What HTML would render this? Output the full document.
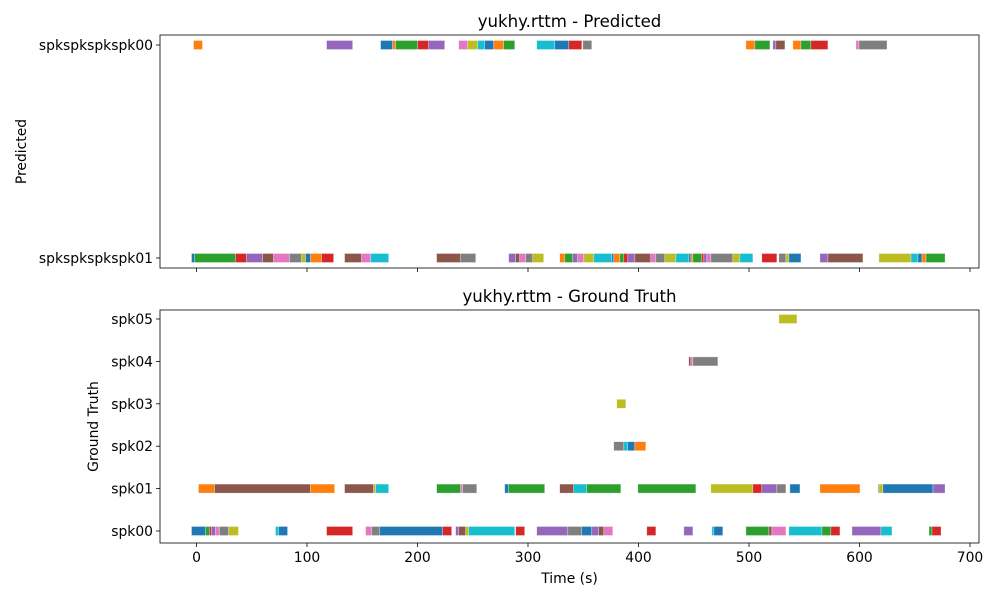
<!DOCTYPE html>
<html><head><meta charset="utf-8"><style>
body{margin:0;background:#fff;font-family:"DejaVu Sans",sans-serif}
svg text{font-family:"DejaVu Sans",sans-serif;fill:#000}
</style></head><body>
<svg id="c" width="1000" height="600" xmlns="http://www.w3.org/2000/svg"></svg>
<script>
const xTicks=[0,100,200,300,400,500,600,700];
const predLabels=["spkspkspkspk00","spkspkspkspk01"];
const gtLabels=["spk00","spk01","spk02","spk03","spk04","spk05"];
const palette=["#1f77b4","#ff7f0e","#2ca02c","#d62728","#9467bd","#8c564b","#e377c2","#7f7f7f","#bcbd22","#17becf"];
const predSpk00=[[-2.7,5.4,1],[117.7,141.3,4],[166.6,177.5,0],[177.5,180.2,1],[180.2,200.1,2],[200.1,210.1,3],[210.1,224.6,4],[237.3,245.4,6],[245.4,254.5,8],[254.5,260.8,9],[260.8,269,0],[269,278,1],[278,288,2],[307.9,324.2,9],[324.2,336.9,0],[336.9,348.7,3],[349.6,357.7,7],[497.2,505.3,1],[505.3,518.9,2],[521.6,524.3,4],[524.3,532.5,5],[539.7,547,1],[547,556,2],[556,571.4,3],[596.8,599.5,6],[599.5,624.9,7]];
const predSpk01=[[-4.5,-1.8,0],[-1.8,35.3,2],[35.3,45.3,3],[45.3,59.8,4],[59.8,69.7,5],[69.7,84.2,6],[84.2,95.1,7],[95.1,98.7,8],[98.7,103.2,0],[103.2,113.2,1],[113.2,124.1,3],[134,149.4,5],[149.4,157.6,6],[157.6,173.9,9],[217.3,239.1,5],[239.1,252.7,7],[282.5,288.9,4],[288.9,292.5,5],[292.5,297.9,6],[297.9,304.3,7],[304.3,314.2,8],[328.7,333.3,1],[333.3,340.5,2],[340.5,345,4],[345,350.5,6],[350.5,359.5,8],[359.5,375.8,9],[375.8,377.6,0],[377.6,383.1,1],[383.1,386.7,2],[386.7,390.3,3],[390.3,396.7,4],[396.7,411.1,5],[411.1,415.7,6],[415.7,423.8,7],[423.8,433.8,8],[433.8,445.6,9],[445.6,447.4,0],[447.4,449.2,1],[449.2,457.3,2],[457.3,459.1,3],[459.1,461.9,4],[461.9,465.5,6],[465.5,485.4,7],[485.4,491.7,8],[491.7,503.5,9],[511.6,525.2,3],[527,533.4,7],[533.4,536.1,8],[536.1,547,0],[564.2,571.4,4],[571.4,603.1,5],[617.6,646.6,8],[646.6,652.9,9],[652.9,656.6,0],[656.6,660.2,1],[660.2,677.4,2]];
const gtSpk00=[[-4.5,8.2,0],[8.2,11.8,2],[11.8,13.6,3],[13.6,17.2,4],[17.2,20.8,6],[20.8,29,7],[29,38,8],[71.5,74.3,9],[74.3,82.4,0],[117.7,141.3,3],[153,158.5,6],[158.5,165.7,7],[165.7,222.8,0],[222.8,230.9,3],[234.5,237.3,4],[237.3,243.6,5],[243.6,246.3,8],[246.3,288,9],[288.9,297,3],[307.9,336,4],[336,348.7,7],[348.7,357.7,0],[357.7,364,4],[364,368.6,5],[368.6,376.7,6],[407.5,415.7,3],[441,449.2,4],[466.4,468.2,9],[468.2,476.3,0],[497.2,518,2],[518,520.7,5],[520.7,533.4,6],[536.1,566,9],[566,574.1,2],[574.1,582.3,3],[593.2,619.4,4],[619.4,629.4,9],[662.9,665.6,2],[665.6,673.8,3]];
const gtSpk01=[[1.8,16.3,1],[16.3,103.2,5],[103.2,125,1],[134,160.3,5],[160.3,162.1,8],[162.1,173.9,9],[217.3,239.1,2],[239.1,240.9,6],[240.9,253.6,7],[278.9,282.5,0],[282.5,315.1,2],[328.7,341.4,5],[341.4,353.2,9],[353.2,384,2],[399.4,451.9,2],[465.5,503.5,8],[503.5,511.6,3],[511.6,525.2,4],[525.2,533.4,7],[537,546.1,0],[564.2,600.4,1],[616.7,617.6,7],[617.6,621.2,8],[621.2,666.5,0],[666.5,677.4,4]];
const gtSpk02=[[377.6,386.7,7],[386.7,390.3,9],[390.3,396.7,0],[396.7,406.6,1]];
const gtSpk03=[[380.3,388.5,8]];
const gtSpk04=[[445.5,447.4,5],[447.4,449.2,6],[449.2,471.8,7]];
const gtSpk05=[[527.1,543.4,8]];

const svg=document.getElementById('c');
const NS="http://www.w3.org/2000/svg";
function mk(tag,attrs,parent){const e=document.createElementNS(NS,tag);for(const k in attrs)e.setAttribute(k,attrs[k]);(parent||svg).appendChild(e);return e;}
const L=160,R=979;
function xs(t){return 196.5+t*(773.5/700);}
function yTop(i){return 45+i*(258-45);}
function yBot(i){return 531-i*42.4;}
const H=9;

function drawRow(rows,yfn,idx,name){
  rows.forEach(s=>{
    const r=mk('rect',{x:xs(s[0]),y:yfn(idx)-H/2,width:Math.max(0.5,xs(s[1])-xs(s[0])),height:H,fill:palette[s[2]],stroke:'#fff','stroke-width':0.6,'stroke-opacity':0.5});
    
    
  });
}
function axes(top,bot,title,labels,yfn,ylab,ylabX,showXLabels,name){
  const frame=mk('rect',{x:L,y:top,width:R-L,height:bot-top,fill:'none',stroke:'#000','stroke-width':0.8});
  
  
  const t=mk('text',{x:(L+R)/2,y:top-8,'text-anchor':'middle','font-size':16.6});t.textContent=title;
  
  
  labels.forEach((lb,i)=>{
    const y=yfn(i);
    mk('line',{x1:L-4,x2:L,y1:y,y2:y,stroke:'#000','stroke-width':0.8});
    const tx=mk('text',{x:L-7,y:y+5,'text-anchor':'end','font-size':13.9});tx.textContent=lb;
    
    
  });
  xTicks.forEach(v=>{
    const x=xs(v);
    mk('line',{x1:x,x2:x,y1:bot,y2:bot+4,stroke:'#000','stroke-width':0.8});
    if(showXLabels){const tx=mk('text',{x:x,y:bot+19,'text-anchor':'middle','font-size':13.9});tx.textContent=v;
      
      }
  });
  const yl=mk('text',{x:ylabX,y:(top+bot)/2,'text-anchor':'middle','font-size':13.9,transform:`rotate(-90 ${ylabX} ${(top+bot)/2})`});yl.textContent=ylab;
  
  
}
axes(35,268,"yukhy.rttm - Predicted",predLabels,yTop,"Predicted",26,false,'predicted-panel');
drawRow(predSpk00,yTop,0,'pred-spk00');
drawRow(predSpk01,yTop,1,'pred-spk01');
axes(310,543,"yukhy.rttm - Ground Truth",gtLabels,yBot,"Ground Truth",98,true,'ground-truth-panel');
[gtSpk00,gtSpk01,gtSpk02,gtSpk03,gtSpk04,gtSpk05].forEach((r,i)=>drawRow(r,yBot,i,'gt-spk0'+i));
const xl=mk('text',{x:(L+R)/2,y:583,'text-anchor':'middle','font-size':13.9});xl.textContent="Time (s)";


</script>
</body></html>
